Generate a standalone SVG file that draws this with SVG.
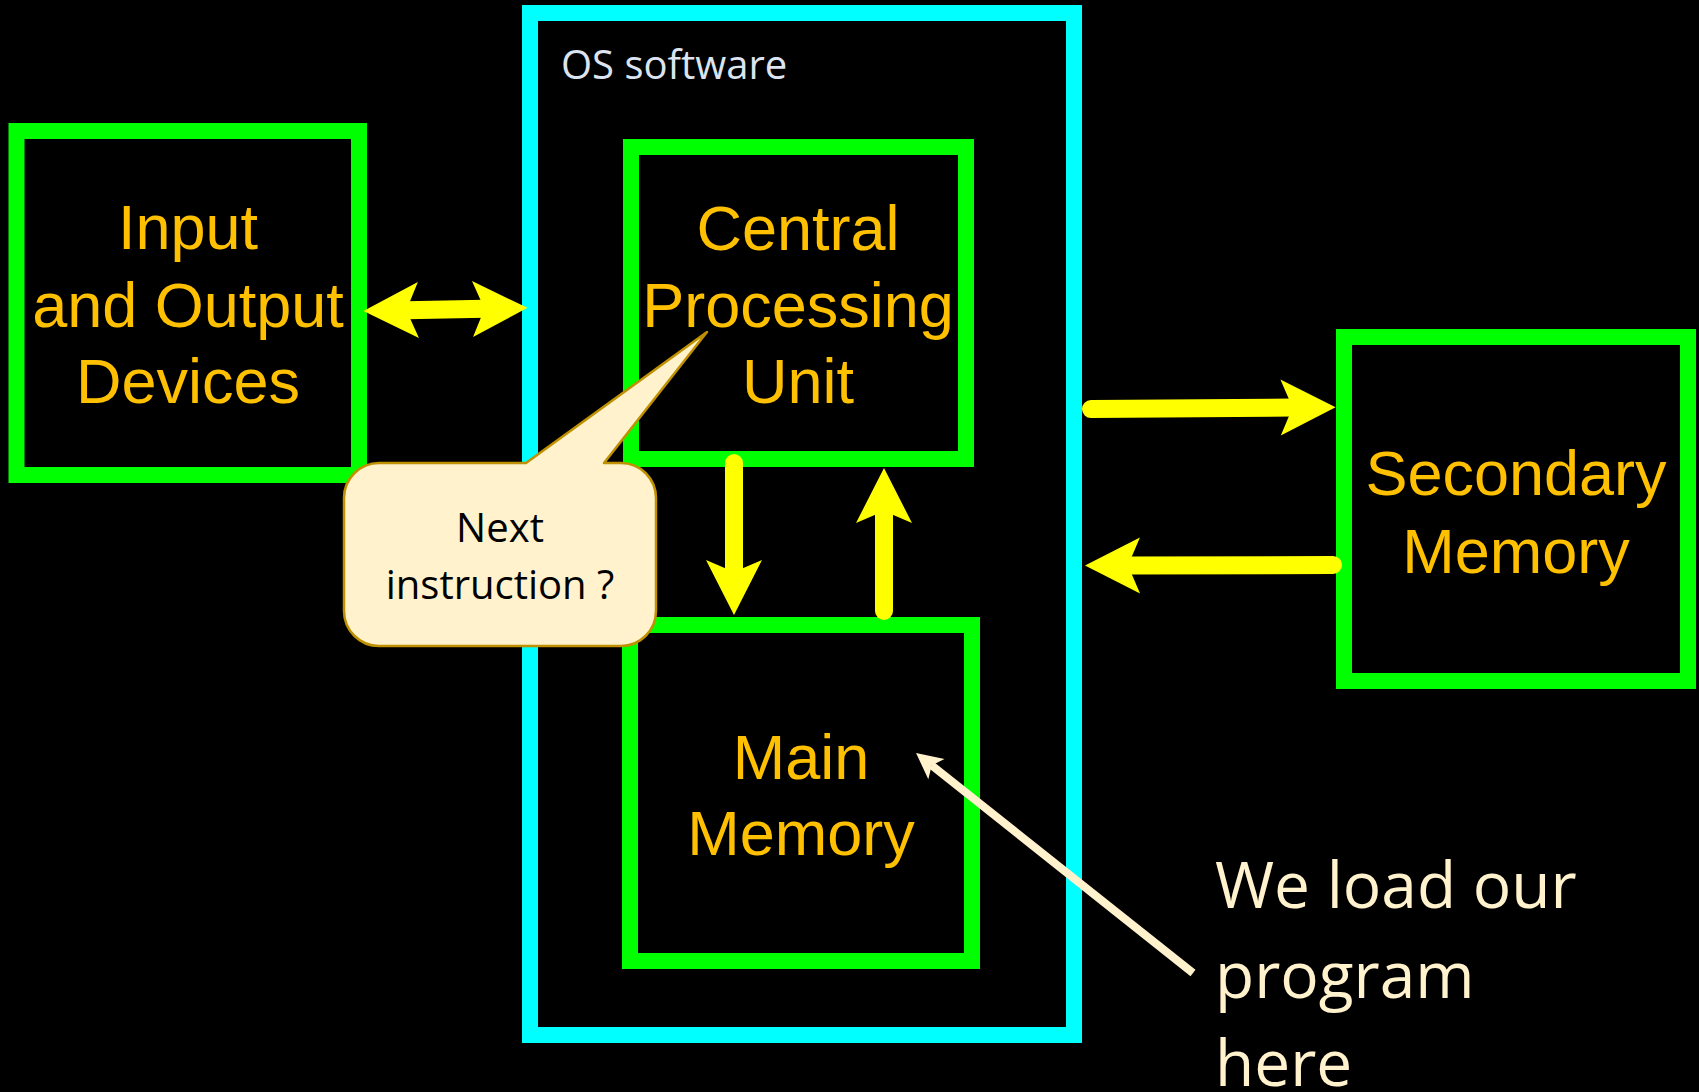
<svg xmlns="http://www.w3.org/2000/svg" width="1699" height="1092" viewBox="0 0 1699 1092">
  <defs>
    <style>
      .box { fill: none; stroke: #00FF00; stroke-width: 16; }
      .os { fill: none; stroke: #00FFFF; stroke-width: 16; }
      .lbl { font-family: "Liberation Sans", Arial, sans-serif; font-size: 63px; fill: #FFC000; text-anchor: middle; }
      .flow { fill: none; stroke: #FFFF00; stroke-width: 18; stroke-linecap: round; }
      .note { font-family: "Open Sans", "Noto Sans", sans-serif; }
    </style>
    <!-- notched arrowhead, origin at the notch where the shaft ends -->
    <marker id="head" markerUnits="userSpaceOnUse" viewBox="-13 -29 57 58" markerWidth="57" markerHeight="58" refX="0" refY="0" orient="auto-start-reverse">
      <path d="M43,0 L-12,-28 L0,0 L-12,28 Z" fill="#FFFF00"/>
    </marker>
    <marker id="pointer" markerUnits="userSpaceOnUse" viewBox="-8 -15 30 30" markerWidth="30" markerHeight="30" refX="0" refY="0" orient="auto">
      <path d="M20,0 L-6,-13 L0,0 L-6,13 Z" fill="#FFF2CC"/>
    </marker>
  </defs>

  <rect width="1699" height="1092" fill="#000000"/>

  <g id="os-software">
    <rect class="os" x="530" y="13" width="544" height="1022"/>
    <text x="561" y="79" class="note" font-size="40" fill="#DCE4F2">OS software</text>
  </g>

  <g id="io-devices">
    <rect class="box" x="16.5" y="131" width="342.5" height="344"/>
    <text class="lbl" x="188" y="249">Input</text>
    <text class="lbl" x="188" y="327">and Output</text>
    <text class="lbl" x="188" y="403">Devices</text>
  </g>

  <g id="cpu">
    <rect class="box" x="631" y="147" width="335" height="312"/>
    <text class="lbl" x="798" y="250">Central</text>
    <text class="lbl" x="798" y="327">Processing</text>
    <text class="lbl" x="798" y="403">Unit</text>
  </g>

  <g id="main-memory">
    <rect class="box" x="630" y="625" width="342" height="336"/>
    <text class="lbl" x="801" y="779">Main</text>
    <text class="lbl" x="801" y="855">Memory</text>
  </g>

  <g id="secondary-memory">
    <rect class="box" x="1344" y="337" width="344" height="344"/>
    <text class="lbl" x="1516" y="495">Secondary</text>
    <text class="lbl" x="1516" y="573">Memory</text>
  </g>

  <g id="connectors">
    <line class="flow" x1="406.4" y1="310.2" x2="484.5" y2="308.7" marker-start="url(#head)" marker-end="url(#head)"/>
    <line class="flow" x1="734" y1="463" x2="734" y2="572" marker-end="url(#head)"/>
    <line class="flow" x1="884" y1="611" x2="884" y2="511" marker-end="url(#head)"/>
    <line class="flow" x1="1091" y1="409" x2="1292.6" y2="407.5" marker-end="url(#head)"/>
    <line class="flow" x1="1333" y1="565" x2="1128" y2="565.5" marker-end="url(#head)"/>
    <line x1="1193" y1="973" x2="931.7" y2="765.4" stroke="#FFF2CC" stroke-width="8" marker-end="url(#pointer)"/>
  </g>

  <g id="callout">
    <path d="M379,463 L526,463 L707,332 L604,463 L621,463 A35,35 0 0 1 656,498 L656,611 A35,35 0 0 1 621,646 L379,646 A35,35 0 0 1 344,611 L344,498 A35,35 0 0 1 379,463 Z" fill="#FFF2CC" stroke="#BF9000" stroke-width="2.5" stroke-linejoin="round"/>
    <text class="note" x="500" y="542" font-size="40" fill="#000000" text-anchor="middle">Next</text>
    <text class="note" x="500" y="599" font-size="40" fill="#000000" text-anchor="middle">instruction ?</text>
  </g>

  <g id="program-note">
    <text class="note" x="1215" y="908" font-size="64" fill="#FFF2CC">We load our</text>
    <text class="note" x="1215" y="998" font-size="64" fill="#FFF2CC">program</text>
    <text class="note" x="1215" y="1086" font-size="64" fill="#FFF2CC">here</text>
  </g>
</svg>
